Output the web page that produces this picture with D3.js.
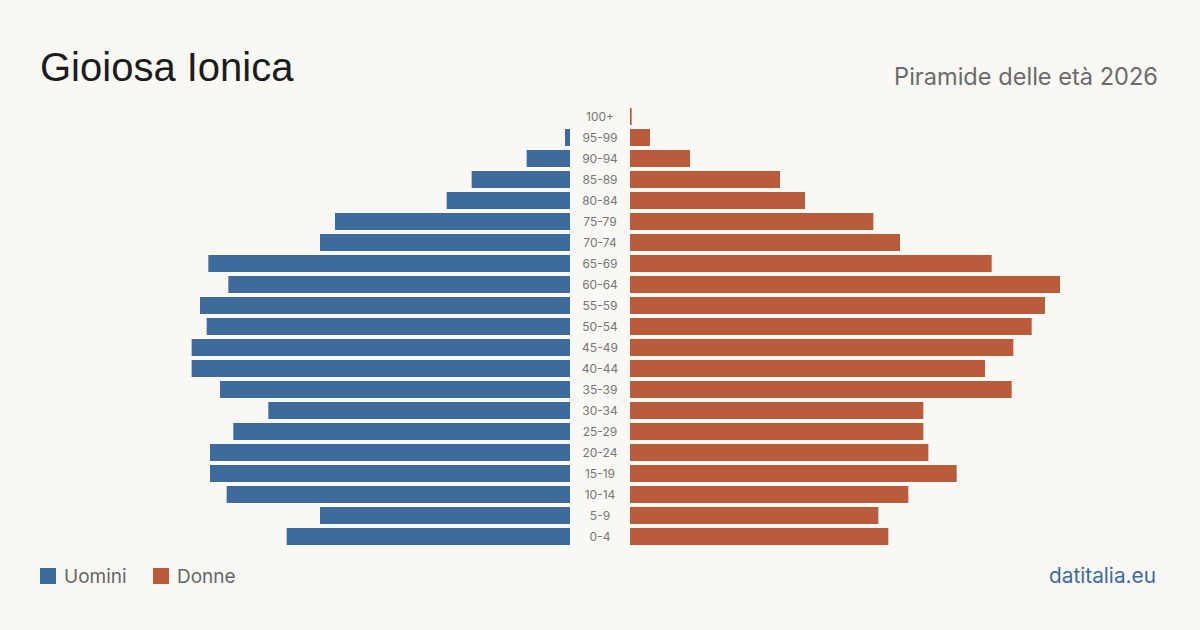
<!DOCTYPE html>
<html>
<head>
<meta charset="utf-8">
<script src="https://cdn.jsdelivr.net/npm/d3@7"></script>
<style>
  html, body { margin: 0; padding: 0; background: #f9f8f4; }
  svg { display: block; font-family: Inter, 'Noto Sans', sans-serif; }
</style>
</head>
<body>
<div id="chart"></div>
<script>
// age classes, bottom to top
const ageGroups = ['0-4', '5-9', '10-14', '15-19', '20-24', '25-29', '30-34', '35-39', '40-44', '45-49',
    '50-54', '55-59', '60-64', '65-69', '70-74', '75-79', '80-84', '85-89', '90-94', '95-99', '100+'];
const men   = [170, 150, 206, 216, 216, 202, 181, 210, 227, 227, 218, 222, 205, 217, 150, 141, 74, 59, 26, 3, 0];
const women = [155, 149, 167, 196, 179, 176, 176, 229, 213, 230, 241, 249, 258, 217, 162, 146, 105, 90, 36, 12, 1];

const W = 1200, H = 630;
const colMen = '#3d6b9c', colWomen = '#b95c3c';

const svg = d3.select('#chart').append('svg')
    .attr('width', W)
    .attr('height', H);

svg.append('rect').attr('width', W).attr('height', H).attr('fill', '#f9f8f4');

svg.append('text')
    .attr('x', 40).attr('y', 81)
    .style('font-family', "'Liberation Sans', Arial, sans-serif")
    .style('font-size', '40px')
    .style('fill', '#1c1c1c')
    .text('Gioiosa Ionica');

svg.append('text')
    .attr('x', 1158).attr('y', 85)
    .attr('text-anchor', 'end')
    .style('font-size', '23.6px')
    .style('fill', '#6b6b6b')
    .text('Piramide delle età 2026');

const data = ageGroups.map((a, i) => ({ age: a, m: men[i], f: women[i] }));
const maxVal = d3.max(data, d => Math.max(d.m, d.f));

const y = d3.scaleBand()
    .domain(ageGroups.slice().reverse())
    .range([106, 547])
    .paddingInner(4 / 21)
    .paddingOuter(2 / 21);

const xLeft = d3.scaleLinear().domain([0, maxVal]).range([570, 140]);
const xRight = d3.scaleLinear().domain([0, maxVal]).range([630, 1060]);

svg.append('g').selectAll('rect')
    .data(data)
    .join('rect')
    .attr('x', d => xLeft(d.m))
    .attr('y', d => y(d.age))
    .attr('width', d => xLeft(0) - xLeft(d.m))
    .attr('height', y.bandwidth())
    .attr('fill', colMen);

svg.append('g').selectAll('rect')
    .data(data)
    .join('rect')
    .attr('x', xRight(0))
    .attr('y', d => y(d.age))
    .attr('width', d => xRight(d.f) - xRight(0))
    .attr('height', y.bandwidth())
    .attr('fill', colWomen);

svg.append('g').selectAll('text')
    .data(data)
    .join('text')
    .attr('x', 600)
    .attr('y', d => y(d.age) + y.bandwidth() / 2)
    .attr('dy', '0.35em')
    .attr('text-anchor', 'middle')
    .style('font-size', '12px')
    .style('fill', '#777')
    .text(d => d.age);

// legend
const legend = [{ label: 'Uomini', color: colMen, x: 40 }, { label: 'Donne', color: colWomen, x: 153 }];
legend.forEach(l => {
    svg.append('rect')
        .attr('x', l.x).attr('y', 568)
        .attr('width', 16).attr('height', 16)
        .attr('fill', l.color);
    svg.append('text')
        .attr('x', l.x + 24).attr('y', 583)
        .style('font-size', '19px')
        .style('fill', '#666')
        .text(l.label);
});

svg.append('text')
    .attr('x', 1156).attr('y', 583)
    .attr('text-anchor', 'end')
    .style('font-size', '20.8px')
    .style('fill', '#3d6b9c')
    .text('datitalia.eu');
</script>
</body>
</html>
